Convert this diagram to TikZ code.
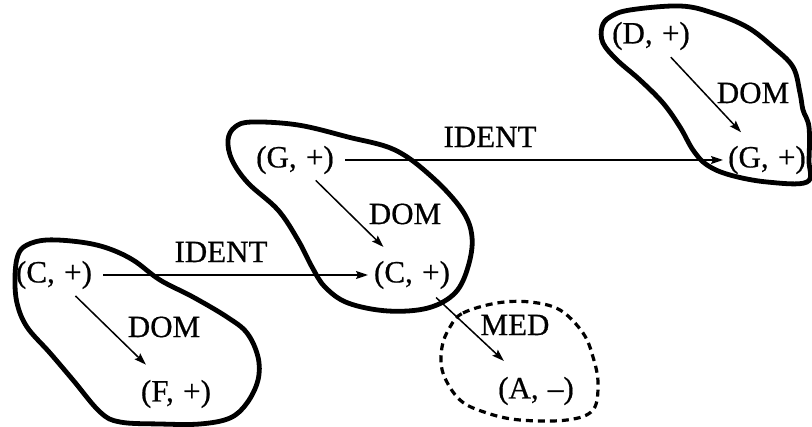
\documentclass[tikz,border=0pt]{standalone}
\usepackage{fontspec}
\setmainfont{Liberation Serif}[FakeBold=0.6]
\usetikzlibrary{arrows.meta}
\newcommand\pairtxt[2]{(#1,\hspace{0.3em}#2)}
\tikzset{
  lbl/.style={inner sep=0pt, font=\fontsize{31}{36}\selectfont},
  arr/.style={line width=1.5pt, -{Stealth[length=12pt,width=8pt,inset=2pt]}},
  blob/.style={line width=4.8pt, line join=round},
  dblob/.style={line width=3.2pt, dash pattern=on 7pt off 5pt},
}
\begin{document}
\begin{tikzpicture}[x=1pt,y=-1pt]
\useasboundingbox (0,0) rectangle (812,427);
% blobs
\draw[blob] plot[smooth cycle, tension=0.6] coordinates {
 (15,277) (18,255) (27,245) (47,240) (80,242) (107,248) (133,260) (160,280)
 (193,297) (227,317) (247,333) (258,357) (258,380) (247,403) (230,418)
 (200,424) (160,424) (120,422) (100,412) (73,380) (50,353) (27,327) (17,303)};
\draw[blob] plot[smooth cycle, tension=0.6] coordinates {
 (228,140) (235,127) (252,122) (298,125) (348,137) (395,150) (432,177)
 (462,210) (472,237) (468,267) (455,293) (428,308) (388,311) (348,303)
 (325,287) (312,267) (298,240) (278,210) (248,183) (232,160)};
\draw[blob] plot[smooth cycle, tension=0.6] coordinates {
 (602,27) (610,17) (630,10) (680,6) (713,13) (747,27) (773,47) (793,67)
 (800,93) (803,110) (809,127) (809,160) (807,182) (767,182) (730,175)
 (707,165) (693,150) (680,127) (663,103) (640,80) (617,60) (603,43)};
\draw[dblob] plot[smooth cycle, tension=0.6] coordinates {
 (450,327) (463,313) (497,303) (530,302) (560,310) (583,333) (593,357)
 (598,383) (593,410) (567,420) (520,420) (487,413) (460,400) (443,373)
 (442,347)};
% labels
\node[lbl] (cl) at (54,275) {\pairtxt{C}{+}};
\node[lbl] (f) at (176,394) {\pairtxt{F}{+}};
\node[lbl] (gm) at (295,160) {\pairtxt{G}{+}};
\node[lbl] (cm) at (412,275) {\pairtxt{C}{+}};
\node[lbl] (d) at (651,36) {\pairtxt{D}{+}};
\node[lbl] (gr) at (767,160) {\pairtxt{G}{+}};
\node[lbl] (a) at (536,391) {\pairtxt{A}{–}};
\node[lbl] (domL) at (164,327) {DOM};
\node[lbl] (domM) at (405,214) {DOM};
\node[lbl] (domR) at (753,93) {DOM};
\node[lbl] (identL) at (221,252) {IDENT};
\node[lbl] (identT) at (490,137) {IDENT};
\node[lbl] (med) at (515,325) {MED};
% connectors
\draw[arr, shorten <=30pt, shorten >=42pt] (cl.center) -- (f.center);
\draw[arr, shorten <=29pt, shorten >=40pt] (gm.center) -- (cm.center);
\draw[arr, shorten <=29pt, shorten >=38pt] (d.center) -- (gr.center);
\draw[arr, shorten <=33pt, shorten >=44pt] (cm.center) -- (a.center);
\draw[arr, shorten <=49pt, shorten >=44pt] (cl.center) -- (cm.center);
\draw[arr, shorten <=50pt, shorten >=44pt] (gm.center) -- (gr.center);
\end{tikzpicture}
\end{document}
